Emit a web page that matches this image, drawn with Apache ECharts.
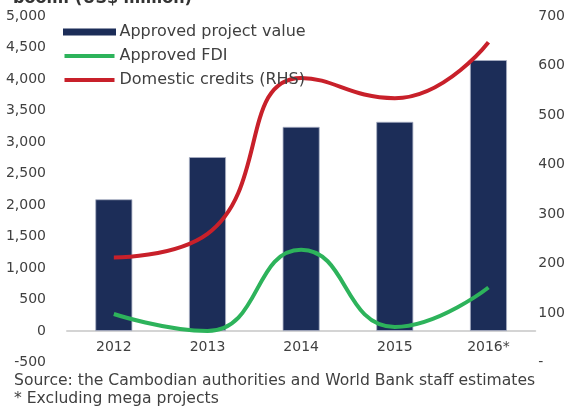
<!DOCTYPE html>
<html>
<head>
<meta charset="UTF-8">
<title>Investment boom</title>
<script src="https://cdn.jsdelivr.net/npm/echarts@6/dist/echarts.min.js"></script>
<style>
  html, body { margin: 0; padding: 0; background: #fff; }
</style>
</head>
<body>
<div id="main" style="width:568px;height:407px;"></div>
<script type="text/javascript">
// data
var years = ['2012', '2013', '2014', '2015', '2016*'];
var projectValue = [2090, 2760, 3240, 3320, 4300];   // US$ million, LHS
var approvedFdi = [270, 0, 1290, 65, 690];           // US$ million, LHS
var domesticCredits = [212, 260, 575, 534, 647];     // RHS

var txt = '#404040';
var font = 'DejaVu Sans';
var navy = '#1c2d58', green = '#2db35b', red = '#c8202a';

var myChart = echarts.init(document.getElementById('main'));

option = {
    animation: false,
    textStyle: { fontFamily: font },
    title: {
        text: 'boom: (US$ million)',
        left: 8,
        top: -14,
        textStyle: { fontSize: 16, fontWeight: 'bold', color: '#333', fontFamily: font }
    },
    legend: {
        orient: 'vertical',
        left: 63,
        top: 24,
        padding: 0,
        itemWidth: 50,
        itemHeight: 4,
        itemGap: 8,
        textStyle: { fontSize: 16, color: txt, fontFamily: font },
        data: [
            { name: 'Approved project value', icon: 'rect', itemStyle: { color: navy, borderColor: navy, borderWidth: 3 } },
            { name: 'Approved FDI', icon: 'rect' },
            { name: 'Domestic credits (RHS)', icon: 'rect' }
        ]
    },
    grid: {
        left: 67,
        right: 31,
        top: 16,
        bottom: 44.5,
        containLabel: false
    },
    xAxis: {
        type: 'category',
        data: years,
        axisLine: { onZero: true, onZeroAxisIndex: 0, lineStyle: { color: '#d4d4d4', width: 2 } },
        axisTick: { show: false },
        axisLabel: { color: txt, fontSize: 14, margin: -22 }
    },
    yAxis: [{
        type: 'value',
        min: -500,
        max: 5000,
        interval: 500,
        splitLine: { show: false },
        axisLine: { show: false },
        axisTick: { show: false },
        axisLabel: {
            color: txt, fontSize: 14, margin: 21,
            formatter: function (v) { return v.toLocaleString('en-US'); }
        }
    }, {
        type: 'value',
        min: 0,
        max: 700,
        interval: 100,
        splitLine: { show: false },
        axisLine: { show: false },
        axisTick: { show: false },
        axisLabel: {
            color: txt, fontSize: 14, margin: 3,
            formatter: function (v) { return v === 0 ? '-' : v; }
        }
    }],
    series: [{
        name: 'Approved project value',
        type: 'bar',
        data: projectValue,
        barWidth: 37,
        itemStyle: { color: navy, borderColor: '#a9b0c4', borderWidth: 0.8 }
    }, {
        name: 'Approved FDI',
        type: 'line',
        data: approvedFdi,
        smooth: 0.5,
        showSymbol: false,
        symbol: 'none',
        itemStyle: { color: green },
        lineStyle: { color: green, width: 4 }
    }, {
        name: 'Domestic credits (RHS)',
        type: 'line',
        yAxisIndex: 1,
        data: domesticCredits,
        smooth: 0.5,
        showSymbol: false,
        symbol: 'none',
        itemStyle: { color: red },
        lineStyle: { color: red, width: 4 }
    }],
    graphic: [{
        type: 'text',
        left: 14,
        top: 373,
        style: { text: 'Source: the Cambodian authorities and World Bank staff estimates', fill: txt, font: '15.6px "DejaVu Sans"' }
    }, {
        type: 'text',
        left: 14,
        top: 391,
        style: { text: '* Excluding mega projects', fill: txt, font: '15.6px "DejaVu Sans"' }
    }]
};
myChart.setOption(option);
</script>
</body>
</html>
